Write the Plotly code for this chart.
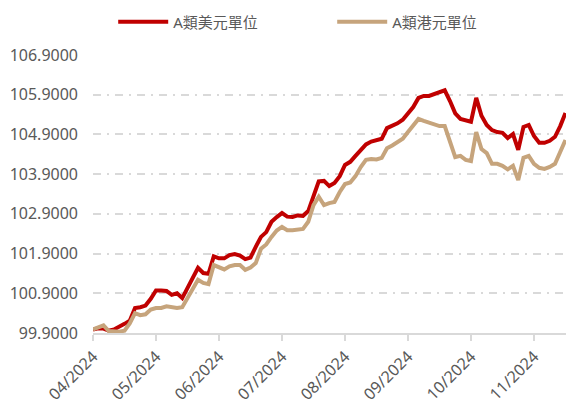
import plotly.graph_objects as go

month_labels = ["04/2024", "05/2024", "06/2024", "07/2024", "08/2024", "09/2024", "10/2024", "11/2024"]
points_per_month = 12

usd_class = [
    99.99, 100.02, 100.01, 99.96, 99.99, 100.05, 100.13, 100.21, 100.53, 100.55,
    100.59, 100.76, 100.97, 100.97, 100.96, 100.86, 100.90, 100.78, 101.03, 101.29,
    101.54, 101.41, 101.39, 101.83, 101.78, 101.78, 101.86, 101.89, 101.85, 101.76,
    101.80, 102.07, 102.32, 102.44, 102.70, 102.82, 102.92, 102.83, 102.82, 102.86,
    102.85, 102.97, 103.35, 103.72, 103.73, 103.60, 103.68, 103.85, 104.13, 104.21,
    104.36, 104.51, 104.65, 104.72, 104.75, 104.79, 105.06, 105.11, 105.18, 105.27,
    105.45, 105.59, 105.82, 105.87, 105.87, 105.91, 105.97, 106.01, 105.74, 105.43,
    105.29, 105.25, 105.22, 105.82, 105.37, 105.14, 105.01, 104.96, 104.94, 104.81,
    104.91, 104.51, 105.09, 105.14, 104.86, 104.69, 104.69, 104.74, 104.84, 105.11,
    105.44,
]
hkd_class = [
    99.99, 100.03, 100.09, 99.95, 99.94, 99.93, 99.96, 100.14, 100.40, 100.35,
    100.37, 100.49, 100.53, 100.53, 100.57, 100.55, 100.53, 100.55, 100.78, 101.03,
    101.24, 101.16, 101.13, 101.61, 101.56, 101.50, 101.58, 101.61, 101.61, 101.49,
    101.55, 101.66, 102.02, 102.13, 102.32, 102.48, 102.57, 102.49, 102.49, 102.51,
    102.52, 102.70, 103.12, 103.33, 103.12, 103.17, 103.20, 103.45, 103.65, 103.69,
    103.85, 104.08, 104.26, 104.28, 104.27, 104.31, 104.55, 104.62, 104.71, 104.79,
    104.96, 105.14, 105.29, 105.24, 105.20, 105.15, 105.11, 105.11, 104.74, 104.33,
    104.36, 104.26, 104.23, 104.96, 104.53, 104.43, 104.16, 104.16, 104.11, 104.02,
    104.11, 103.75, 104.31, 104.36, 104.16, 104.06, 104.03, 104.08, 104.16, 104.46,
    104.76,
]
y_ticks = [99.9, 100.9, 101.9, 102.9, 103.9, 104.9, 105.9, 106.9]

x = list(range(len(usd_class)))
tick_pos = [i * points_per_month for i in range(len(month_labels))]

FONT = "Noto Sans, Noto Sans CJK TC, sans-serif"

fig = go.Figure()
fig.add_trace(go.Scatter(x=x, y=usd_class, mode="lines", name="A類美元單位",
                         line=dict(color="#C00000", width=4)))
fig.add_trace(go.Scatter(x=x, y=hkd_class, mode="lines", name="A類港元單位",
                         line=dict(color="#C6A47C", width=4)))

fig.update_layout(
    width=566, height=400,
    margin=dict(l=93, r=0, t=55, b=67, autoexpand=False),
    paper_bgcolor="white", plot_bgcolor="white",
    font=dict(family=FONT, size=16, color="#595959"),
    legend=dict(orientation="h", xref="container", yref="container",
                x=0.2, xanchor="left", y=1 - 22 / 400, yanchor="middle",
                font=dict(size=15, color="#595959"),
                itemwidth=50, entrywidth=154, entrywidthmode="pixels"),
    showlegend=True,
)
fig.update_xaxes(
    range=[0, 90.1], tickvals=tick_pos, ticktext=month_labels, tickangle=-45,
    showgrid=False, showline=True, linecolor="#d9d9d9", linewidth=2,
    ticks="outside", ticklen=6, tickwidth=2, tickcolor="#d9d9d9",
    tickfont=dict(size=16, color="#595959"), zeroline=False,
)
fig.update_yaxes(
    range=[99.9, 106.9], tickvals=y_ticks, tickformat=".4f",
    showgrid=True, gridcolor="#d9d9d9", gridwidth=1.5, griddash="8px,6px,2px,6px",
    showline=False, zeroline=False, ticks="", ticklabelstandoff=14,
    tickfont=dict(size=16, color="#595959"),
)

fig.write_html("out.html", config={"displayModeBar": False},
               post_script="document.body.style.margin='0';document.body.style.overflow='hidden';")
